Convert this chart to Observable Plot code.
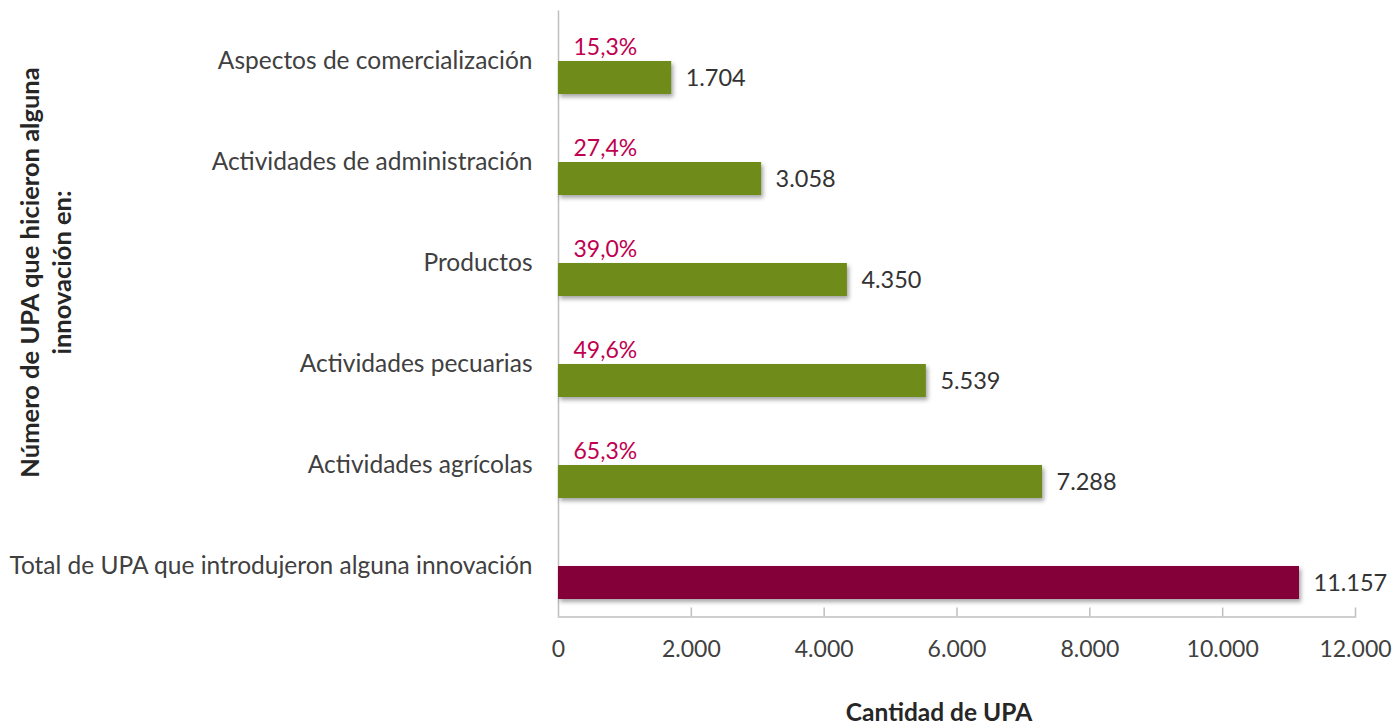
<!DOCTYPE html>
<html><head><meta charset="utf-8">
<script src="https://cdn.jsdelivr.net/npm/d3@7"></script>
<script src="https://cdn.jsdelivr.net/npm/@observablehq/plot@0.6"></script>
<style>
body{margin:0;background:#fff;}
g[aria-label="bar"]{filter:drop-shadow(2px 3px 2px rgba(0,0,0,0.35));}
</style>
</head><body>
<div id="chart"></div>
<script>
const categories = ["Aspectos de comercialización","Actividades de administración","Productos","Actividades pecuarias","Actividades agrícolas","Total de UPA que introdujeron alguna innovación"];
const values = [1704, 3058, 4350, 5539, 7288, 11157];
const percents = ["15,3%","27,4%","39,0%","49,6%","65,3%", null];
const kinds = ["green","green","green","green","green","total"];
const xTicks = [0,2000,4000,6000,8000,10000,12000];
const yTitle = "Número de UPA que hicieron alguna\ninnovación en:";
const xTitle = "Cantidad de UPA";
const data = categories.map((c,i)=>({cat:c, value:values[i], pct:percents[i], kind:kinds[i]}));
const fmt = d3.formatLocale({decimal:",", thousands:".", grouping:[3], currency:["",""]}).format(",d");
const font = "Lato, 'Open Sans', sans-serif";
const plot = Plot.plot({
  width:1395, height:728,
  marginLeft:558, marginRight:40, marginTop:10.5, marginBottom:111.5,
  style:{fontFamily:font, fontSize:"23px", color:"#404040", background:"#fff"},
  x:{domain:[0,12000], ticks:xTicks, tickFormat:d=>fmt(d)},
  y:{domain:categories, padding:0, round:false},
  color:{domain:["green","total"], range:["#6f8c1a","#840038"]},
  marks:[
    Plot.ruleX([0], {stroke:"#bfbfbf", strokeWidth:1.5}),
    Plot.frame({anchor:"bottom", stroke:"#bfbfbf", strokeWidth:1.5}),
    Plot.ruleX(xTicks.slice(1), {x:d=>d, stroke:"#bfbfbf", strokeWidth:1.5, insetTop:597}),
    Plot.barX(data, {x:"value", y:"cat", fill:"kind", insetTop:50.5, insetBottom:17.5}),
    Plot.text(data.filter(d=>d.pct), {x:0, y:"cat", text:"pct", dx:15, dy:-14, textAnchor:"start", fill:"#c0004f", fontSize:23}),
    Plot.text(data, {x:"value", y:"cat", text:d=>fmt(d.value), dx:14, dy:17, textAnchor:"start", fill:"#333", fontSize:23.5}),
    Plot.axisY({tickSize:0, tickPadding:26, fontSize:24.5, label:null}),
    Plot.axisX({ticks:xTicks, tickFormat:d=>fmt(d), tickSize:0, tickPadding:24, fontSize:23, label:null}),
    Plot.text([yTitle], {text:d=>d, frameAnchor:"left", textAnchor:"middle", rotate:-90, dx:-514, dy:-41.5, fontSize:25.5, fontWeight:"bold", fill:"#262626", lineHeight:1.25}),
    Plot.text([xTitle], {text:d=>d, frameAnchor:"bottom", textAnchor:"middle", dx:-18, dy:104, fontSize:24.5, fontWeight:"bold", fill:"#262626"})
  ]
});
document.getElementById("chart").appendChild(plot);
</script>
</body></html>
